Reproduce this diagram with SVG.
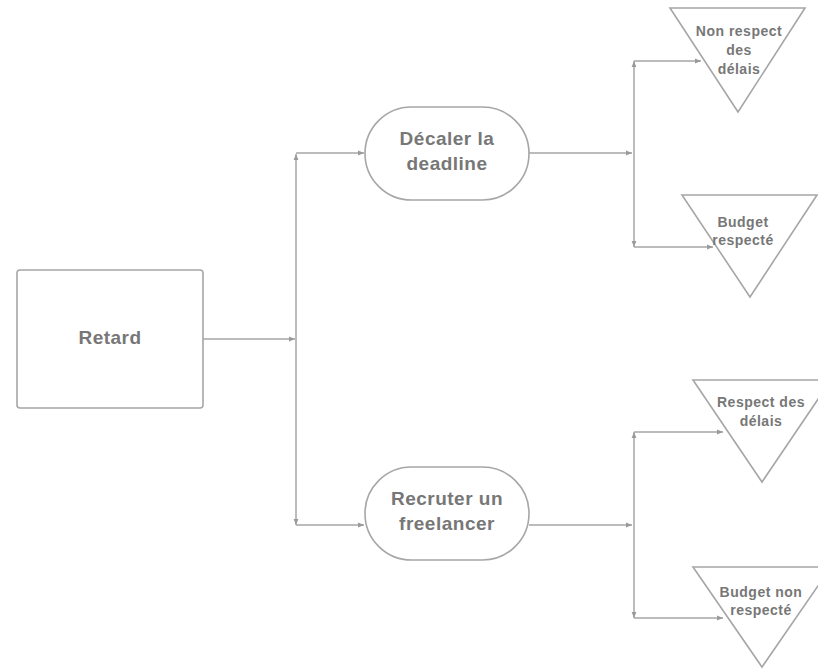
<svg xmlns="http://www.w3.org/2000/svg" width="818" height="669" viewBox="0 0 818 669">
<defs>
<marker id="ah" viewBox="0 0 10 10" refX="10" refY="5" markerWidth="6" markerHeight="6" markerUnits="userSpaceOnUse" orient="auto-start-reverse">
<path d="M0,1 L10,5 L0,9 Z" fill="#9a9a9a"/>
</marker>
<style>
.shape{fill:#ffffff;stroke:#a6a6a6;stroke-width:1.6}
.conn{fill:none;stroke:#a6a6a6;stroke-width:1.5}
.t{font-family:"Liberation Sans",Arial,sans-serif;font-weight:bold;fill:#777777;text-anchor:middle}
.big{font-size:19px;letter-spacing:0.5px}
.sm{font-size:14px;letter-spacing:0.5px}
</style>
</defs>
<rect width="818" height="669" fill="#ffffff"/>
<g id="connectors">
<path class="conn" d="M203,339 H295" marker-end="url(#ah)"/>
<path class="conn" d="M296,154 V525" marker-start="url(#ah)" marker-end="url(#ah)"/>
<path class="conn" d="M296,153 H364" marker-end="url(#ah)"/>
<path class="conn" d="M296,525 H364" marker-end="url(#ah)"/>
<path class="conn" d="M529,153 H632" marker-end="url(#ah)"/>
<path class="conn" d="M529,525 H632" marker-end="url(#ah)"/>
<path class="conn" d="M634,61 V247" marker-start="url(#ah)" marker-end="url(#ah)"/>
<path class="conn" d="M634,61 H701" marker-end="url(#ah)"/>
<path class="conn" d="M634,247 H713" marker-end="url(#ah)"/>
<path class="conn" d="M634,432 V618" marker-start="url(#ah)" marker-end="url(#ah)"/>
<path class="conn" d="M634,432 H723" marker-end="url(#ah)"/>
<path class="conn" d="M634,618 H723" marker-end="url(#ah)"/>
</g>
<g id="retard">
<rect class="shape" x="17" y="270" width="186" height="138" rx="3"/>
<text class="t big" x="110" y="344">Retard</text>
</g>
<g id="decaler">
<rect class="shape" x="365" y="107" width="164" height="93" rx="46.5"/>
<text class="t big" x="447" y="145">Décaler la</text>
<text class="t big" x="447" y="170">deadline</text>
</g>
<g id="recruter">
<rect class="shape" x="365" y="467" width="164" height="93" rx="46.5"/>
<text class="t big" x="447" y="505">Recruter un</text>
<text class="t big" x="447" y="530">freelancer</text>
</g>
<g id="non-respect-delais">
<polygon class="shape" points="670,8 805,8 738,112"/>
<text class="t sm" x="739" y="36">Non respect</text>
<text class="t sm" x="739" y="55">des</text>
<text class="t sm" x="739" y="74">délais</text>
</g>
<g id="budget-respecte">
<polygon class="shape" points="682,195 817,195 750,297"/>
<text class="t sm" x="743" y="227">Budget</text>
<text class="t sm" x="743" y="245">respecté</text>
</g>
<g id="respect-delais">
<polygon class="shape" points="693,380 831,380 762,482"/>
<text class="t sm" x="761" y="407">Respect des</text>
<text class="t sm" x="761" y="426">délais</text>
</g>
<g id="budget-non-respecte">
<polygon class="shape" points="693,567 831,567 762,667"/>
<text class="t sm" x="761" y="597">Budget non</text>
<text class="t sm" x="761" y="615">respecté</text>
</g>
</svg>
